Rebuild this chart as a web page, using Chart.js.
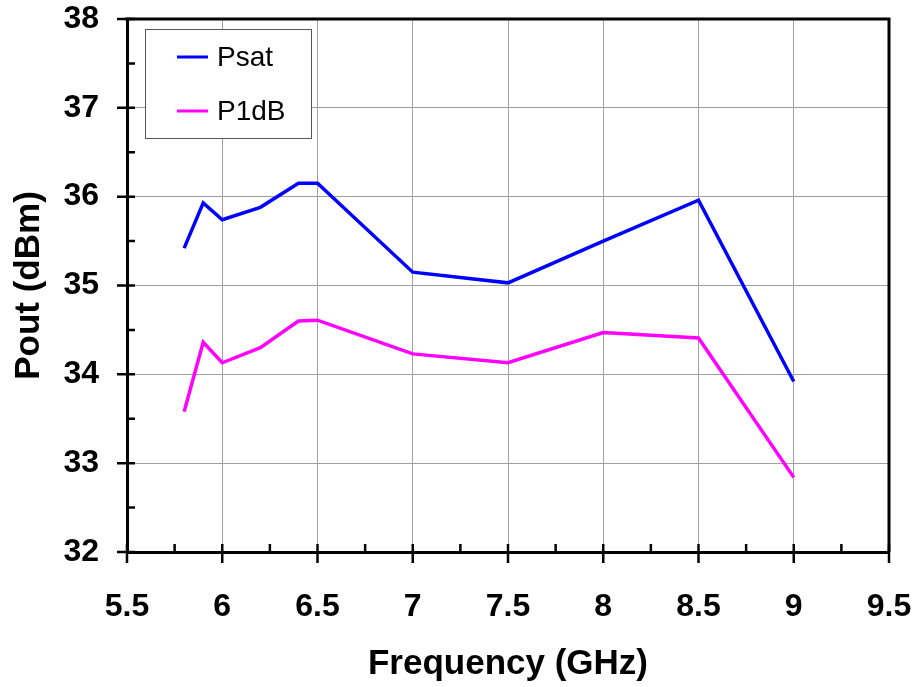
<!DOCTYPE html>
<html>
<head>
<meta charset="utf-8">
<script src="https://cdn.jsdelivr.net/npm/chart.js@4"></script>
<style>
  html, body { margin: 0; padding: 0; background: #fff; }
  #wrap { width: 917px; height: 687px; }
</style>
</head>
<body>
<div id="wrap"><canvas id="chart" width="917" height="687"></canvas></div>
<script>
// data
const freq    = [5.8, 5.9, 6.0, 6.2, 6.4, 6.5, 7.0, 7.5, 8.0, 8.5, 9.0];
const psat    = [35.42, 35.93, 35.74, 35.88, 36.15, 36.15, 35.15, 35.03, 35.5, 35.96, 33.92];
const p1db    = [33.58, 34.36, 34.13, 34.30, 34.60, 34.61, 34.23, 34.13, 34.47, 34.41, 32.84];
const seriesNames = ['Psat', 'P1dB'];
const seriesColors = ['#0000ff', '#ff00ff'];

const FONT = "'Liberation Sans', Arial, sans-serif";

// ticks (major crossing the axis, minor inside) + frame + legend box
const decorPlugin = {
  id: 'decor',
  afterDraw(chart) {
    const { ctx, chartArea: a, scales: { x, y } } = chart;
    ctx.save();
    ctx.strokeStyle = '#000';
    ctx.lineWidth = 3;
    ctx.lineCap = 'butt';

    // top / right frame
    ctx.beginPath();
    ctx.moveTo(a.left - 1.5, a.top);
    ctx.lineTo(a.right, a.top);
    ctx.lineTo(a.right, a.bottom);
    ctx.stroke();

    ctx.lineWidth = 2.5;
    ctx.beginPath();
    for (let v = 32; v <= 38; v += 0.5) {
      const py = y.getPixelForValue(v);
      const major = Math.abs(v - Math.round(v)) < 1e-6;
      ctx.moveTo(major ? a.left - 10 : a.left, py);
      ctx.lineTo(a.left + 8, py);
    }
    for (let v = 5.5; v <= 9.5 + 1e-6; v += 0.25) {
      const px = x.getPixelForValue(v);
      const major = Math.abs(v * 2 - Math.round(v * 2)) < 1e-6;
      ctx.moveTo(px, a.bottom - 8);
      ctx.lineTo(px, major ? a.bottom + 11 : a.bottom);
    }
    ctx.stroke();

    // legend
    const lx = 145, ly = 29, lw = 166, lh = 109;
    ctx.fillStyle = '#fff';
    ctx.fillRect(lx, ly, lw, lh);
    ctx.lineWidth = 1;
    ctx.strokeStyle = '#555';
    ctx.strokeRect(lx + 0.5, ly + 0.5, lw, lh);
    const rows = [57, 111];
    ctx.font = '28px ' + FONT;
    ctx.textBaseline = 'middle';
    ctx.textAlign = 'left';
    seriesNames.forEach((name, i) => {
      ctx.strokeStyle = seriesColors[i];
      ctx.lineWidth = 3;
      ctx.beginPath();
      ctx.moveTo(177, rows[i]);
      ctx.lineTo(208, rows[i]);
      ctx.stroke();
      ctx.fillStyle = '#000';
      ctx.fillText(name, 217, rows[i] + 1);
    });
    ctx.restore();
  }
};

const toPts = vals => freq.map((f, i) => ({ x: f, y: vals[i] }));

// drop the extra room Chart.js keeps for overhanging tick labels
const noPad = s => { s.paddingTop = 0; s.paddingBottom = 0; s.paddingLeft = 0; s.paddingRight = 0; };

new Chart(document.getElementById('chart'), {
  type: 'line',
  data: {
    datasets: [
      { label: seriesNames[0], data: toPts(psat), borderColor: seriesColors[0], borderWidth: 3.5, pointRadius: 0, tension: 0 },
      { label: seriesNames[1], data: toPts(p1db), borderColor: seriesColors[1], borderWidth: 3.5, pointRadius: 0, tension: 0 }
    ]
  },
  options: {
    responsive: false,
    animation: false,
    layout: { padding: { left: 0, top: 19, right: 28, bottom: 0 } },
    plugins: { legend: { display: false }, tooltip: { enabled: false } },
    scales: {
      x: {
        type: 'linear',
        min: 5.5, max: 9.5,
        afterFit: s => { s.height = 135; noPad(s); },
        ticks: {
          stepSize: 0.5, padding: 36, color: '#000',
          font: { family: FONT, size: 32, weight: 'bold' },
          callback: v => String(v)
        },
        grid: { color: '#a0a0a0', lineWidth: 1, drawTicks: false },
        border: { color: '#000', width: 3 },
        title: {
          display: true, text: 'Frequency (GHz)', color: '#000',
          font: { family: FONT, size: 35, weight: 'bold' },
          padding: { top: 0, bottom: 2 }
        }
      },
      y: {
        min: 32, max: 38,
        afterFit: s => { s.width = 127; noPad(s); },
        ticks: {
          stepSize: 1, padding: 28, color: '#000',
          font: { family: FONT, size: 32, weight: 'bold' }
        },
        grid: { color: '#a0a0a0', lineWidth: 1, drawTicks: false },
        border: { color: '#000', width: 3 },
        title: {
          display: true, text: 'Pout (dBm)', color: '#000',
          font: { family: FONT, size: 35, weight: 'bold' },
          padding: { top: 8, bottom: 0 }
        }
      }
    }
  },
  plugins: [decorPlugin]
});
</script>
</body>
</html>
